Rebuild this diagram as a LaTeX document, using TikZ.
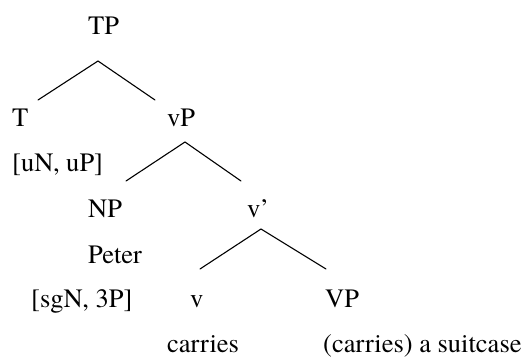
\documentclass[tikz,border=0pt]{standalone}
\usepackage{fontspec}
\setmainfont{TeX Gyre Termes}
\tikzset{
  cat/.style={anchor=base west, inner sep=0pt, font=\fontsize{26.5}{31}\selectfont},
  branch/.style={draw=black, line width=1.1pt, line cap=round},
}

\begin{document}
\begin{tikzpicture}[x=1pt, y=-1pt]
\useasboundingbox (0,0) rectangle (523,358);

% Categories and features, one row per line of text
\node[cat] (tp)     at (88,35)   {TP};
\node[cat] (t)      at (12,127)  {T};
\node[cat] (vp)     at (167,127) {vP};
\node[cat] (tfeat)  at (12,172)  {[uN, uP]};
\node[cat] (np)     at (88,218)  {NP};
\node[cat] (vbar)   at (247,218) {v'};
\node[cat] (peter)  at (88,264)  {Peter};
\node[cat] (npfeat) at (31,308)  {[sgN, 3P]};
\node[cat] (v)      at (190,308) {v};
\node[cat] (bigvp)  at (325,308) {VP};
\node[cat] (carr)   at (167,353) {carries};
\node[cat] (vpword) at (323,353) {(carries) a suitcase};

% Branch points
\coordinate (tpfork)    at (98,61);
\coordinate (tpleft)    at (38,100);
\coordinate (tpright)   at (155,100);
\coordinate (vpfork)    at (185,142);
\coordinate (vpleft)    at (126,181);
\coordinate (vpright)   at (241,181);
\coordinate (vbarfork)  at (261,229);
\coordinate (vbarleft)  at (200,269);
\coordinate (vbarright) at (326,269);

% Branches
\draw[branch] (tpleft) -- (tpfork) -- (tpright);
\draw[branch] (vpleft) -- (vpfork) -- (vpright);
\draw[branch] (vbarleft) -- (vbarfork) -- (vbarright);

\end{tikzpicture}
\end{document}
